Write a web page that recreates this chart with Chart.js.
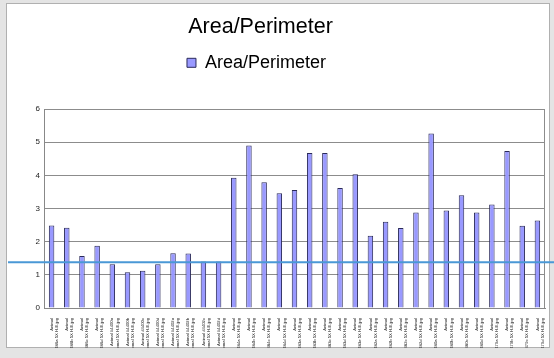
<!DOCTYPE html>
<html>
<head>
<meta charset="utf-8">
<script src="https://cdn.jsdelivr.net/npm/chart.js@4/dist/chart.umd.min.js"></script>
<style>
html,body{margin:0;padding:0;background:#e4e4e4;}
#wrap{position:relative;width:554px;height:358px;}
canvas{display:block;}
</style>
</head>
<body>
<div id="wrap"><canvas id="c" width="554" height="358"></canvas></div>
<script>
const categories = [
  ["Animal","#4486a 5X H-E.jpg"],["Animal","#4486b 5X H-E.jpg"],["Animal","#4486c 5X H-E.jpg"],["Animal","#4486d 5X H-E.jpg"],
  ["Animal #4400a","normal 5X H-E.jpg"],["Animal #4400b","normal 5X H-E.jpg"],["Animal #4400c","normal 5X H-E.jpg"],["Animal #4400d","normal 5X H-E.jpg"],
  ["Animal #4402a","normal 5X H-E.jpg"],["Animal #4402b","normal 5X H-E.jpg"],["Animal #4402c","normal 5X H-E.jpg"],["Animal #4402d","normal 5X H-E.jpg"],
  ["Animal","#4484a 5X H-E.jpg"],["Animal","#4484b 5X H-E.jpg"],["Animal","#4484c 5X H-E.jpg"],["Animal","#4484d 5X H-E.jpg"],
  ["Animal","#4483a 5X H-E.jpg"],["Animal","#4483b 5X H-E.jpg"],["Animal","#4483c 5X H-E.jpg"],["Animal","#4483d 5X H-E.jpg"],
  ["Animal","#4483e 5X H-E.jpg"],["Animal","#4482a 5X H-E.jpg"],["Animal","#4482b 5X H-E.jpg"],["Animal","#4482c 5X H-E.jpg"],
  ["Animal","#4482d 5X H-E.jpg"],["Animal","#4480a 5X H-E.jpg"],["Animal","#4480b 5X H-E.jpg"],["Animal","#4480c 5X H-E.jpg"],
  ["Animal","#4480d 5X H-E.jpg"],["Animal","#4479a 5X H-E.jpg"],["Animal","#4479b 5X H-E.jpg"],["Animal","#4479c 5X H-E.jpg"],
  ["Animal","#4479d 5X H-E.jpg"]
];
const areaPerimeter = [2.49,2.42,1.57,1.88,1.32,1.08,1.12,1.32,1.65,1.64,1.40,1.40,
  3.93,4.90,3.79,3.46,3.56,4.67,4.67,3.62,4.03,2.18,2.60,2.41,2.88,5.26,2.94,3.40,2.88,3.12,4.73,2.48,2.64];
const yTicks = [0,1,2,3,4,5,6];
const thresholdValue = 1.38;
const seriesName = "Area/Perimeter";
const chartTitle = "Area/Perimeter";

const framePlugin = {
  id:'frame',
  afterLayout(chart){
    if (chart.titleBlock){ chart.titleBlock.left -= 16; chart.titleBlock.right -= 16; }
    if (chart.legend){ chart.legend.left -= 20; chart.legend.right -= 20; }
  },
  beforeDraw(chart){
    const ctx = chart.ctx;
    ctx.save();
    ctx.fillStyle = '#e4e4e4';
    ctx.fillRect(0,0,chart.width,chart.height);
    ctx.fillStyle = '#ffffff';
    ctx.fillRect(6,3,543,344);
    ctx.strokeStyle = '#b0b0b0';
    ctx.lineWidth = 1;
    ctx.strokeRect(6.5,3.5,543,344);
    ctx.restore();
  },
  afterDatasetsDraw(chart){
    const ctx = chart.ctx;
    const a = chart.chartArea;
    ctx.save();
    ctx.strokeStyle = '#8c8c8c';
    ctx.lineWidth = 1;
    ctx.beginPath();
    ctx.moveTo(Math.round(a.right)-0.5, a.top);
    ctx.lineTo(Math.round(a.right)-0.5, a.bottom);
    ctx.stroke();
    ctx.restore();
  },
  afterDraw(chart){
    const ctx = chart.ctx;
    const y = chart.scales.y.getPixelForValue(thresholdValue);
    ctx.save();
    ctx.strokeStyle = '#4a98d6';
    ctx.lineWidth = 2;
    ctx.beginPath();
    ctx.moveTo(8,y);
    ctx.lineTo(chart.width,y);
    ctx.stroke();
    ctx.restore();
  }
};

new Chart(document.getElementById('c'), {
  type:'bar',
  data:{
    labels: categories,
    datasets:[{
      label: seriesName,
      data: areaPerimeter,
      backgroundColor:'#9999ff',
      borderColor:'#2a2a5a',
      borderWidth:1,
      barPercentage:0.36,
      categoryPercentage:1.0
    }]
  },
  options:{
    responsive:false,
    animation:false,
    devicePixelRatio:1,
    layout:{padding:{left:8,right:9,top:8,bottom:10}},
    plugins:{
      title:{display:true,text:chartTitle,color:'#000',
        font:{family:'Liberation Sans, Arial, sans-serif',size:21.5,weight:'normal'},
        padding:{top:6,bottom:0}},
      subtitle:{display:true,text:' ',weight:500,
        font:{size:10},padding:{top:8,bottom:7.2}},
      legend:{display:true,position:'top',
        labels:{color:'#000',font:{family:'Liberation Sans, Arial, sans-serif',size:18},
          boxWidth:9,boxHeight:9,padding:14}},
      tooltip:{enabled:false}
    },
    scales:{
      x:{
        grid:{display:false,drawTicks:true},
        border:{color:'#888'},
        ticks:{color:'#111',font:{family:'Liberation Sans, Arial, sans-serif',size:4.2},
          maxRotation:90,minRotation:90,autoSkip:false,padding:2},
        afterFit(s){ s.height = 40; }
      },
      y:{
        min:0,max:6,
        afterBuildTicks(s){ s.ticks = yTicks.map(v=>({value:v})); },
        grid:{color:'#8c8c8c',drawTicks:false},
        border:{display:true,color:'#888'},
        ticks:{color:'#222',font:{family:'Liberation Sans, Arial, sans-serif',size:8},padding:4},
        afterFit(s){ s.width = 36; }
      }
    }
  },
  plugins:[framePlugin]
});
</script>
</body>
</html>
